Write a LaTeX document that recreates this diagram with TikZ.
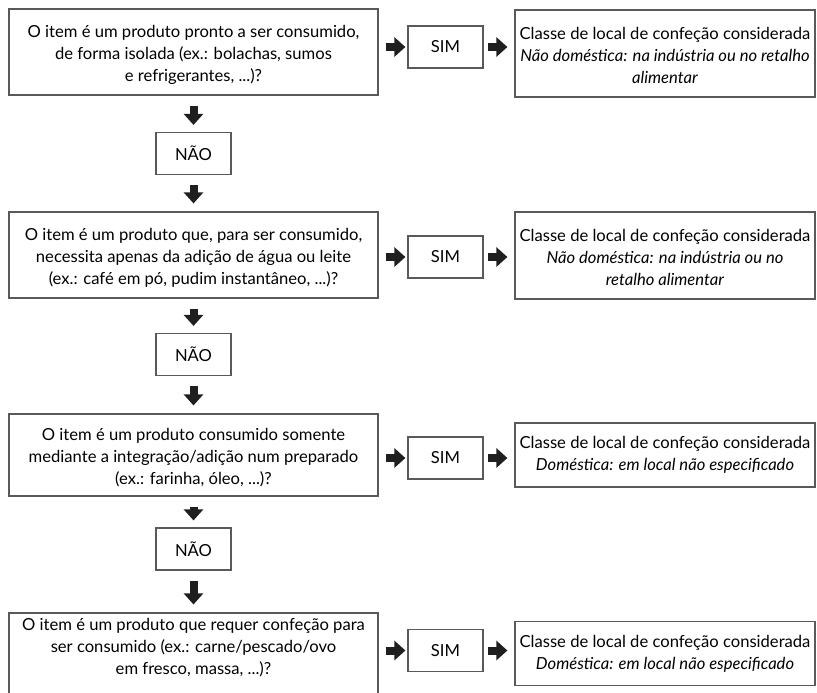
\documentclass[tikz,border=0pt]{standalone}
\usepackage{fontspec}
\setmainfont{Lato}
\usetikzlibrary{arrows.meta}

\begin{document}
\begin{tikzpicture}[
    x=0.5pt, y=-0.5pt,
    box/.style = {
        rectangle,
        draw=black!65,
        line width=0.6pt,
        align=center,
        font=\fontsize{8.3}{11}\selectfont,
        inner sep=2pt
    },
    threeline/.style = {text height=29.5pt, text depth=0pt},
    question/.style = {box, threeline, minimum width=184.5pt, minimum height=43pt},
    answer/.style   = {box, minimum width=37.5pt, minimum height=21pt},
    result/.style   = {box, minimum width=150pt},
    blockarrow/.style = {-{Triangle[width=9.5pt,length=5.5pt]}, line width=4pt, draw=black!88},
    line cap=butt, line join=miter
]

\useasboundingbox (0,0) rectangle (817,692);

% Define columns
\def\colq{193.5}
\def\cols{445.5}
\def\colr{665}

% Row 1
\node[question] (q1) at (\colq,52) {
    O item é um produto pronto a ser consumido,\\
    de forma isolada (ex.: bolachas, sumos\\
    e refrigerantes, ...)?
};
\node[answer] (sim1) at (\cols,47) {SIM};
\node[result, threeline, minimum height=43.5pt] (r1) at (\colr,53.5) {
    Classe de local de confeção considerada\\
    \textit{Não doméstica: na indústria ou no retalho}\\
    \textit{alimentar}
};
\node[answer] (nao1) at (\colq,153.5) {NÃO};

% Row 2
\node[question] (q2) at (\colq,255) {
    O item é um produto que, para ser consumido,\\
    necessita apenas da adição de água ou leite\\
    (ex.: café em pó, pudim instantâneo, ...)?
};
\node[answer] (sim2) at (\cols,257) {SIM};
\node[result, threeline, minimum height=43.5pt] (r2) at (\colr,255.5) {
    Classe de local de confeção considerada\\
    \textit{Não doméstica: na indústria ou no}\\
    \textit{retalho alimentar}
};
\node[answer] (nao2) at (\colq,354.5) {NÃO};

% Row 3
\node[question, minimum height=41pt] (q3) at (\colq,455) {
    O item é um produto consumido somente\\
    mediante a integração/adição num preparado\\
    (ex.: farinha, óleo, ...)?
};
\node[answer] (sim3) at (\cols,458) {SIM};
\node[result, minimum height=32pt] (r3) at (\colr,455) {
    Classe de local de confeção considerada\\
    \textit{Doméstica: em local não especificado}
};
\node[answer] (nao3) at (\colq,549) {NÃO};

% Row 4 (box runs past the bottom edge)
\node[question, text height=18pt] (q4) at (\colq,656) {
    O item é um produto que requer confeção para\\
    ser consumido (ex.: carne/pescado/ovo\\
    em fresco, massa, ...)?
};
\node[answer] (sim4) at (\cols,650.5) {SIM};
\node[result, minimum height=32pt] (r4) at (\colr,653.5) {
    Classe de local de confeção considerada\\
    \textit{Doméstica: em local não especificado}
};

% Arrows - question to SIM to result
\draw[blockarrow, shorten <=3.5pt, shorten >=1pt] (q1.east |- sim1.west) -- (sim1.west);
\draw[blockarrow, shorten <=2pt, shorten >=3.5pt] (sim1.east) -- (sim1.east -| r1.west);
\draw[blockarrow, shorten <=3.5pt, shorten >=1pt] (q2.east |- sim2.west) -- (sim2.west);
\draw[blockarrow, shorten <=2pt, shorten >=3.5pt] (sim2.east) -- (sim2.east -| r2.west);
\draw[blockarrow, shorten <=3.5pt, shorten >=1pt] (q3.east |- sim3.west) -- (sim3.west);
\draw[blockarrow, shorten <=2pt, shorten >=3.5pt] (sim3.east) -- (sim3.east -| r3.west);
\draw[blockarrow, shorten <=3.5pt, shorten >=1pt] (q4.east |- sim4.west) -- (sim4.west);
\draw[blockarrow, shorten <=2pt, shorten >=3.5pt] (sim4.east) -- (sim4.east -| r4.west);

% Arrows - down through NÃO
\draw[blockarrow, shorten <=5pt, shorten >=3.5pt] (q1.south -| nao1.north) -- (nao1.north);
\draw[blockarrow, shorten <=5pt, shorten >=4pt] (nao1.south) -- (nao1.south |- q2.north);
\draw[blockarrow, shorten <=5pt, shorten >=3.5pt] (q2.south -| nao2.north) -- (nao2.north);
\draw[blockarrow, shorten <=5pt, shorten >=4pt] (nao2.south) -- (nao2.south |- q3.north);
\draw[blockarrow, shorten <=5pt, shorten >=3.5pt] (q3.south -| nao3.north) -- (nao3.north);
\draw[blockarrow, shorten <=5pt, shorten >=4pt] (nao3.south) -- (nao3.south |- q4.north);

\end{tikzpicture}
\end{document}
